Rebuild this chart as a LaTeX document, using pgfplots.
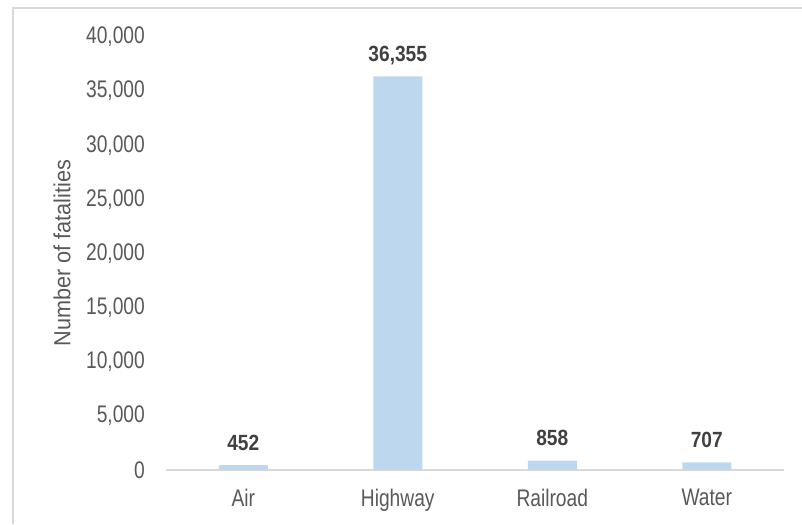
\documentclass[border=0pt]{standalone}
\usepackage{fontspec}
\setmainfont{Liberation Sans}[FakeStretch=0.80]
\newfontfamily\labelfont{Liberation Sans}[FakeStretch=0.93]
\newfontfamily\valuefont{Liberation Sans}[FakeStretch=0.87]
\usepackage{pgfplots}
\pgfplotsset{compat=1.18}
\definecolor{barblue}{HTML}{BDD7EE}
\definecolor{axisgray}{HTML}{D9D9D9}
\definecolor{ticktext}{HTML}{595959}
\definecolor{valtext}{HTML}{404040}
\begin{document}
\begin{tikzpicture}
% chart frame (left and top edges)
\draw[axisgray, line width=1.5pt] (13pt,0pt) -- (13pt,516pt) -- (802pt,516pt);
\begin{axis}[
  at={(166pt,54pt)}, anchor=south west,
  scale only axis, width=618pt, height=433pt,
  xmin=-0.5, xmax=3.5, ymin=0, ymax=40000,
  axis x line=bottom, axis y line=left,
  x axis line style={axisgray, line width=1.5pt, -},
  y axis line style={draw=none},
  major tick length=0pt, tick style={draw=none},
  xtick={0,1,2,3}, xticklabels={Air,Highway,Railroad,Water},
  ytick={0,5000,...,40000},
  scaled y ticks=false,
  /pgf/number format/fixed,
  /pgf/number format/1000 sep={,},
  /pgf/number format/assume math mode=true,
  ticklabel style={font=\fontsize{24}{28}\selectfont, text=ticktext, inner sep=0pt},
  yticklabel style={anchor=east, xshift=-21pt},
  xticklabel style={anchor=north, yshift=-19pt},
  ybar, bar width=49pt,
  nodes near coords,
  nodes near coords style={font=\valuefont\bfseries\fontsize{22}{26}\selectfont, text=valtext,
    inner sep=0pt, anchor=base, yshift=15pt},
  clip=false,
]
\addplot[fill=barblue, draw=none] coordinates {(0,452) (1,36355) (2,858) (3,707)};
\end{axis}
\node[rotate=90, font=\labelfont\fontsize{23.3}{27}\selectfont, text=ticktext, inner sep=0pt] at (62pt,271pt) {Number of fatalities};
\pgfresetboundingbox
\useasboundingbox (0pt,0pt) rectangle (802pt,524pt);
\end{tikzpicture}
\end{document}
